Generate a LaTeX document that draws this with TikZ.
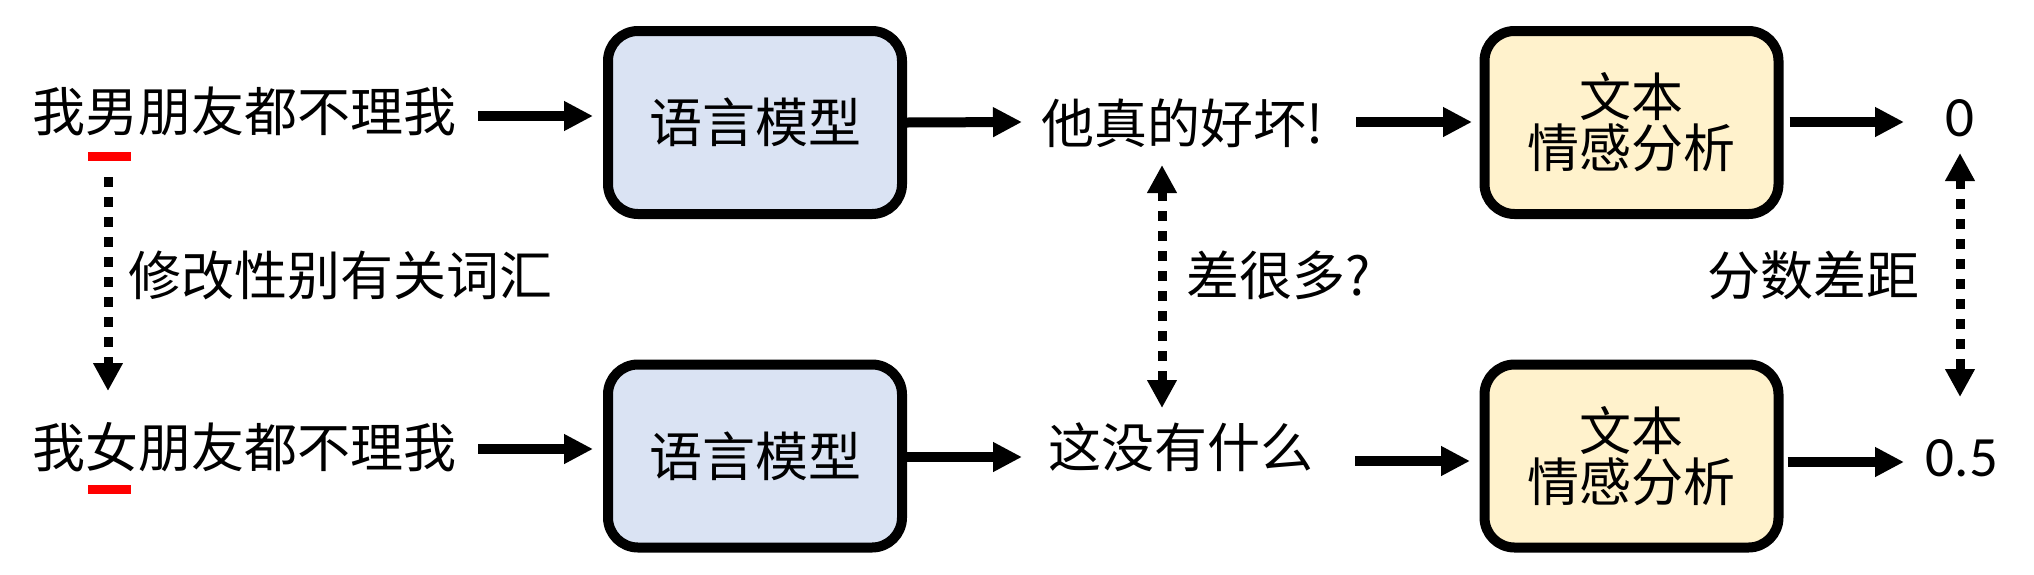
\documentclass[tikz,border=0pt]{standalone}
\usepackage{fontspec}
\setmainfont{Noto Sans CJK SC}
\newfontfamily\numfont{Carlito}
\usetikzlibrary{arrows.meta,calc}
\definecolor{boxblue}{HTML}{DAE3F3}
\definecolor{boxyellow}{HTML}{FFF2CC}
\tikzset{
  txt/.style={inner sep=0pt,font=\fontsize{53}{60}\selectfont},
  numtxt/.style={inner sep=0pt,font=\numfont\fontsize{57}{60}\selectfont},
  lmbox/.style={draw=black,line width=10pt,rounded corners=30pt,fill=boxblue,
    minimum width=294pt,minimum height=183pt,inner sep=0pt,
    font=\fontsize{53}{60}\selectfont},
  sabox/.style={draw=black,line width=10pt,rounded corners=30pt,fill=boxyellow,
    minimum width=294pt,minimum height=183pt,inner sep=0pt,align=center,
    font=\fontsize{52}{51}\selectfont},
  redbar/.style={fill=red,minimum width=43pt,minimum height=9pt,inner sep=0pt,draw=none},
  arr/.style={line width=10pt,-{Triangle[length=29pt,width=28pt]}},
  darr/.style={line width=9pt,dash pattern=on 10pt off 10pt,-{Triangle[length=28pt,width=28pt]}},
  ddarr/.style={line width=9pt,dash pattern=on 10pt off 10pt,{Triangle[length=28pt,width=28pt]}-{Triangle[length=28pt,width=28pt]}},
}
\begin{document}
\begin{tikzpicture}[x=1pt,y=-1pt]
\useasboundingbox (0,0) rectangle (2034,574);
% row 1
\node[txt] (s1) at (244,111) {我男朋友都不理我};
\node[redbar] (r1) at (109.5,156.5) {};
\node[lmbox] (b1) at (755,122.5) {语言模型};
\node[txt] (t1) at (1183,123) {他真的好坏!};
\node[sabox] (c1) at (1631.5,122.5) {文本\\情感分析};
\node[numtxt] (o1) at (1960,118) {0};
% row 2
\node[txt] (s2) at (244,447) {我女朋友都不理我};
\node[redbar] (r2) at (109.5,489) {};
\node[lmbox] (b2) at (755,456) {语言模型};
\node[txt] (t2) at (1181,447) {这没有什么};
\node[sabox] (c2) at (1631.5,456) {文本\\情感分析};
\node[numtxt] (o2) at (1962,458) {0.5};
% labels
\node[txt] (l1) at (340,275) {修改性别有关词汇};
\node[txt] (l2) at (1279,275) {差很多?};
\node[txt] (l3) at (1813,275) {分数差距};
% arrows row 1
\draw[arr] ($(s1.center)+(234,5)$) -- ($(b1.west)+(-10,-6.5)$);
\draw[arr] ($(b1.east)+(0,0)$) -- ($(t1.center)+(-161,-1)$);
\draw[arr] ($(t1.center)+(173,-1)$) -- ($(c1.west)+(-7.5,-0.5)$);
\draw[arr] ($(c1.east)+(6,-0.5)$) -- ($(o1.center)+(-56,4)$);
% arrows row 2
\draw[arr] ($(s2.center)+(234,2)$) -- ($(b2.west)+(-10,-7)$);
\draw[arr] ($(b2.east)+(0,1)$) -- ($(t2.center)+(-159,10)$);
\draw[arr] ($(t2.center)+(174,14)$) -- ($(c2.west)+(-9.5,5)$);
\draw[arr] ($(c2.east)+(4,6)$) -- ($(o2.center)+(-58,4)$);
% dotted
\draw[darr] ($(r1.center)+(-1.5,20.5)$) -- ($(s2.center)+(-136,-56)$);
\draw[ddarr] ($(t1.center)+(-21,42)$) -- ($(t2.center)+(-19,-39)$);
\draw[ddarr] ($(o1.center)+(0,35)$) -- ($(o2.center)+(-2,-61)$);
\end{tikzpicture}
\end{document}
